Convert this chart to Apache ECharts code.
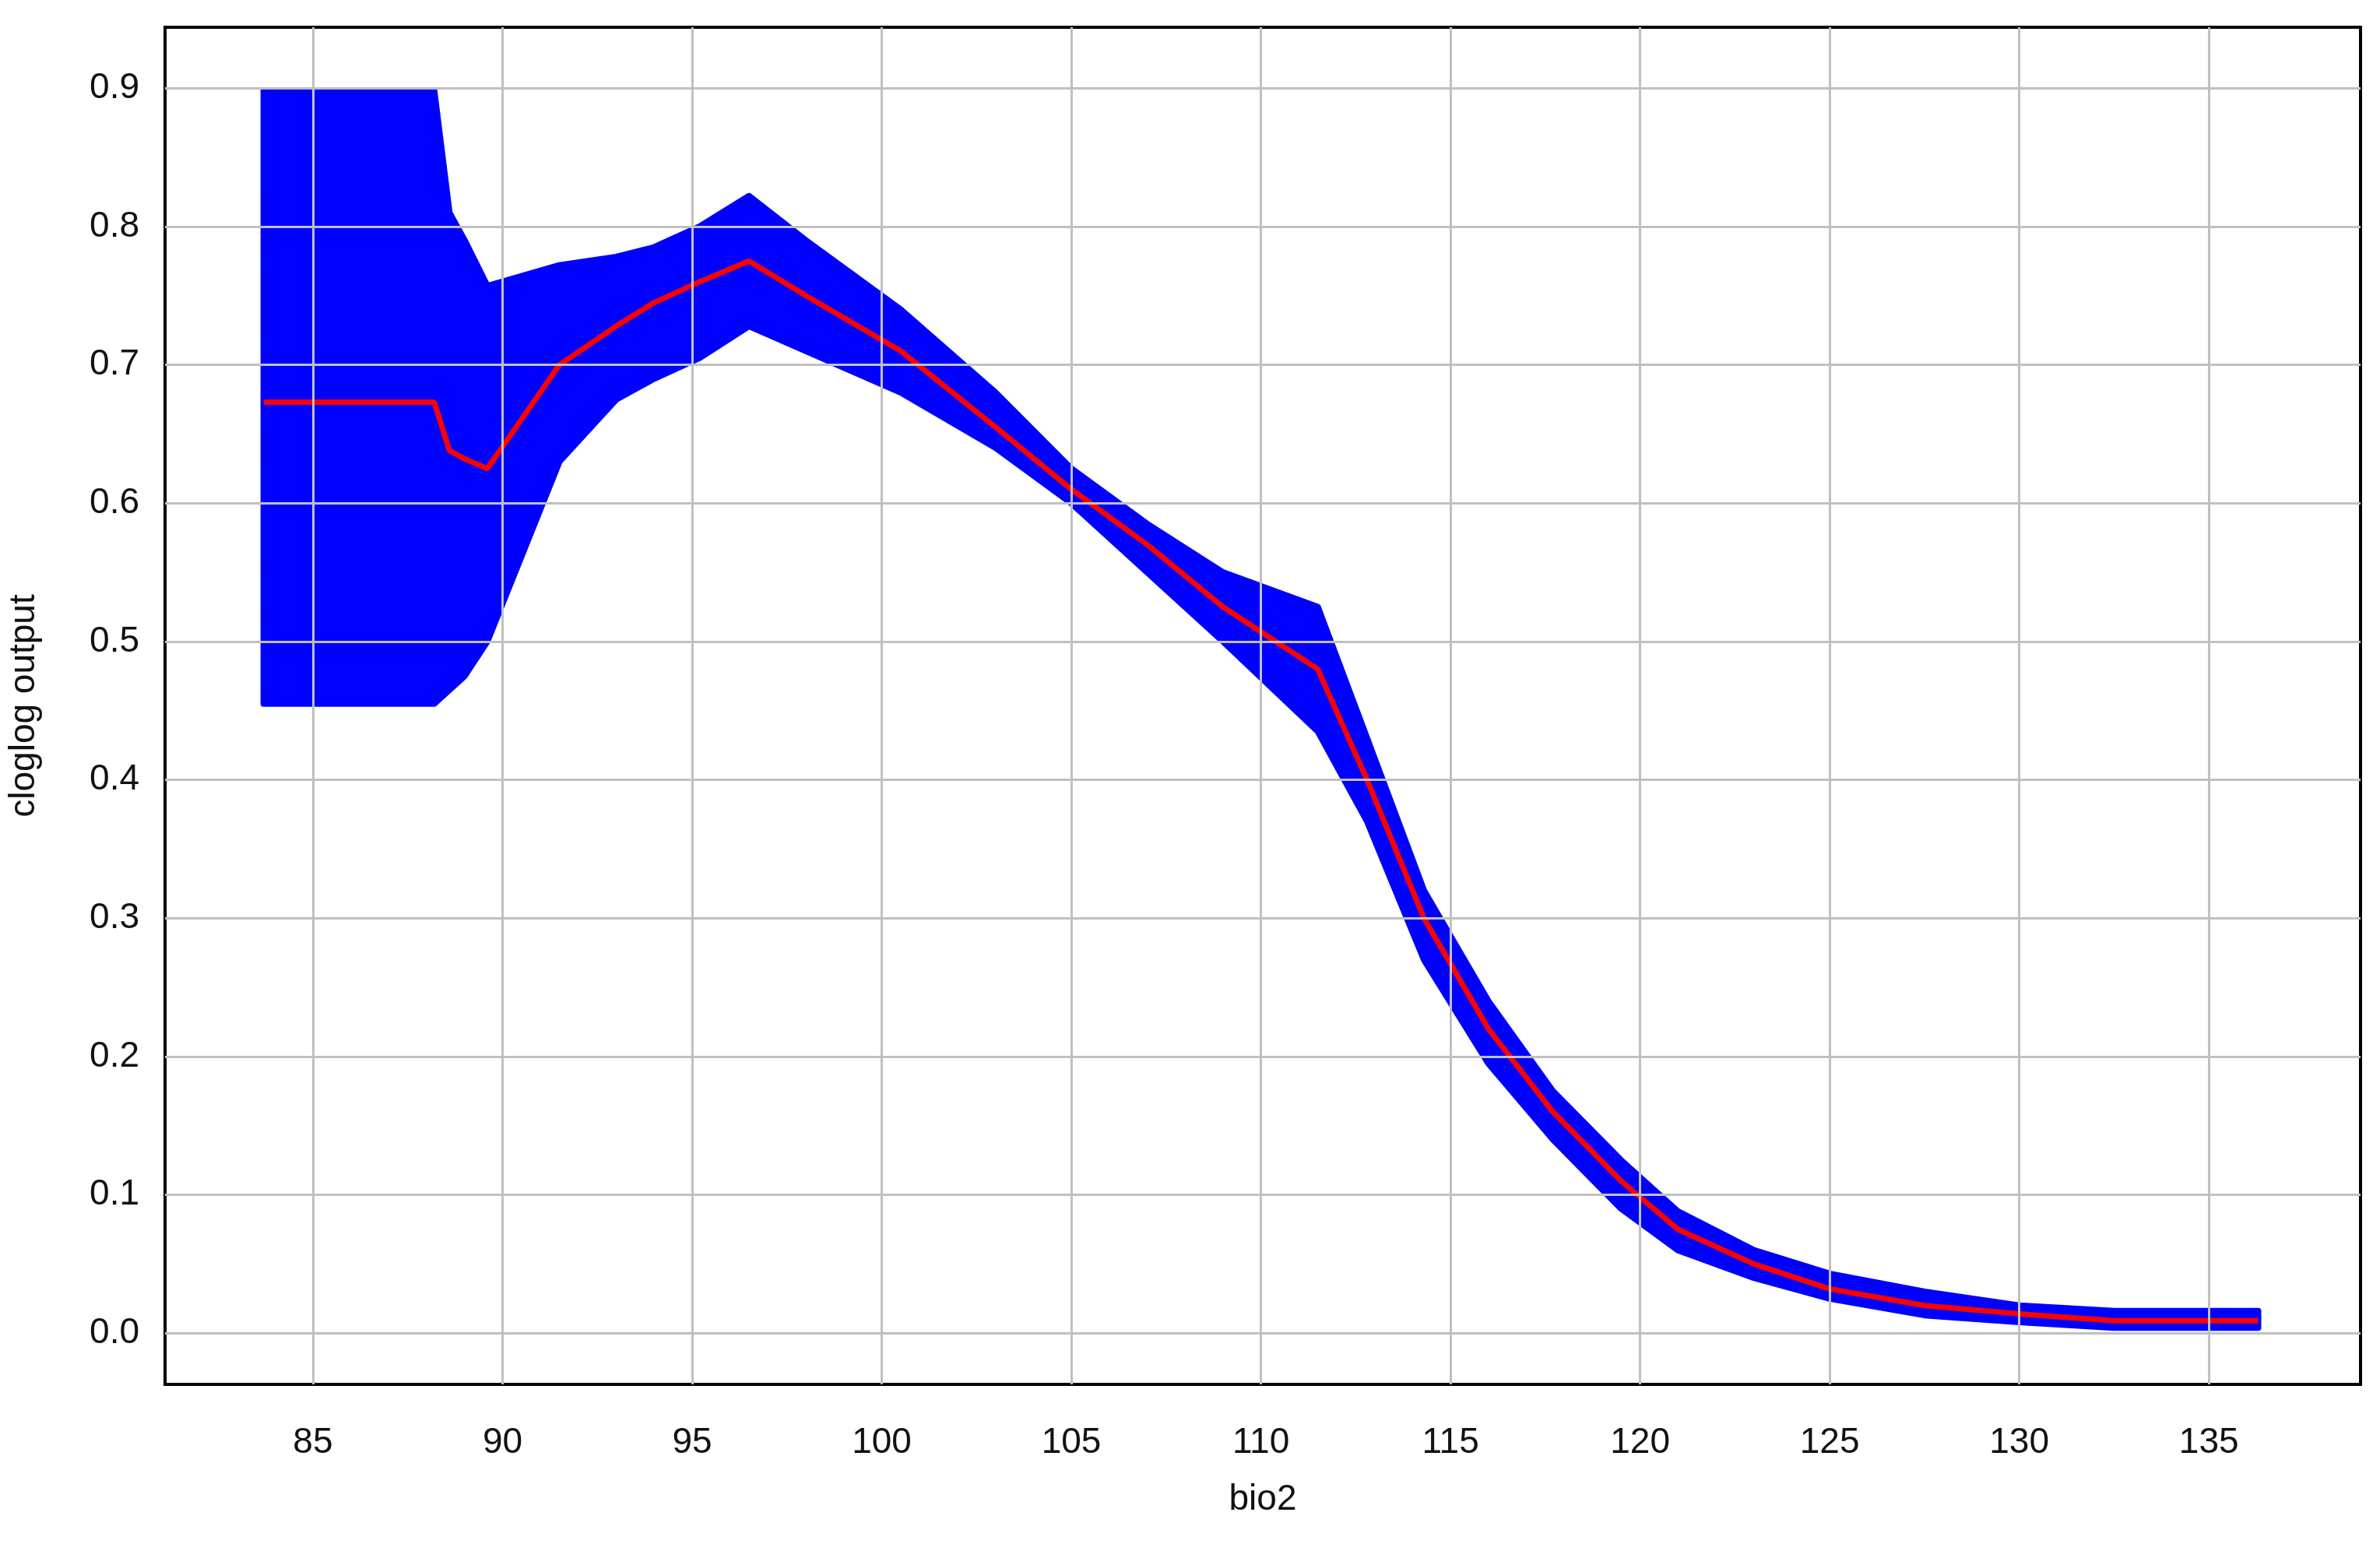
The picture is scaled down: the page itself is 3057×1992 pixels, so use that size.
<!DOCTYPE html>
<html><head><meta charset="utf-8">
<script src="https://cdn.jsdelivr.net/npm/echarts@6/dist/echarts.min.js"></script>
<style>html,body{margin:0;padding:0;background:#fff}#c{width:3057px;height:1992px}</style>
</head><body><div id="c"></div>
<script>
const xs    = [83.7, 88.2, 88.6, 89.0, 89.6, 91.5, 93.0, 94.0, 95.2, 96.5, 98.0, 100.5, 103.0, 105.0, 107.0, 109.0, 111.5, 112.8, 114.3, 116.0, 117.7, 119.5, 121.0, 123.0, 125.0, 127.5, 130.0, 132.5, 136.3];
const mean  = [0.673,0.673,0.638,0.632,0.625,0.700,0.728,0.745,0.760,0.775,0.750,0.710,0.655,0.610,0.570,0.525,0.480,0.400,0.300,0.220,0.160,0.110,0.075,0.050,0.032,0.020,0.014,0.009,0.009];
const upper = [0.898,0.898,0.810,0.790,0.757,0.772,0.778,0.785,0.800,0.822,0.790,0.740,0.680,0.625,0.585,0.550,0.525,0.430,0.320,0.240,0.175,0.125,0.088,0.060,0.043,0.030,0.020,0.016,0.016];
const lower = [0.455,0.455,0.465,0.475,0.500,0.630,0.675,0.690,0.705,0.728,0.710,0.680,0.640,0.600,0.550,0.500,0.435,0.370,0.270,0.195,0.140,0.090,0.060,0.040,0.025,0.013,0.008,0.004,0.004];
const xTicks = [85,90,95,100,105,110,115,120,125,130,135];
const yTicks = [0,0.1,0.2,0.3,0.4,0.5,0.6,0.7,0.8,0.9];

const chart = echarts.init(document.getElementById('c'));
const font = 'Liberation Sans, Arial, sans-serif';
const gridLine = {color:'#c0c0c0', width:3, type:'solid'};
chart.setOption({
  animation:false,
  grid:{left:205,right:25,top:35,bottom:214,show:true,borderColor:'#000',borderWidth:4,backgroundColor:'#fff'},
  xAxis:{type:'value',min:81.1,max:139,name:'bio2',nameLocation:'middle',nameGap:125,
    nameTextStyle:{fontSize:46,fontFamily:font,color:'#111'},
    axisLine:{show:false},axisTick:{show:false},splitLine:{show:false},
    axisLabel:{customValues:xTicks,fontSize:46,fontFamily:font,color:'#111',margin:52}},
  yAxis:{type:'value',min:-0.037,max:0.944,name:'cloglog output',nameLocation:'middle',nameGap:158,
    nameTextStyle:{fontSize:46,fontFamily:font,color:'#111'},
    axisLine:{show:false},axisTick:{show:false},splitLine:{show:false},
    axisLabel:{customValues:yTicks,fontSize:46,fontFamily:font,color:'#111',margin:33,formatter:v=>v.toFixed(1)}},
  series:[
    {type:'line',data:[],silent:true,z:1,
      markLine:{silent:true,symbol:'none',label:{show:false},lineStyle:gridLine,
        data:xTicks.map(v=>({xAxis:v})).concat(yTicks.map(v=>({yAxis:v})))}},
    {type:'custom',z:2,silent:true,data:[0],
      renderItem:function(params,api){
        const pts=[];
        for(let i=0;i<xs.length;i++) pts.push(api.coord([xs[i],upper[i]]));
        for(let i=xs.length-1;i>=0;i--) pts.push(api.coord([xs[i],lower[i]]));
        return {type:'polygon',shape:{points:pts},style:{fill:'#0000ff',stroke:'#0000ff',lineWidth:8,lineJoin:'round'}};
      }},
    {type:'line',data:xs.map((x,i)=>[x,mean[i]]),symbol:'none',lineStyle:{color:'#ff0000',width:7},z:4}
  ]
});
</script></body></html>
